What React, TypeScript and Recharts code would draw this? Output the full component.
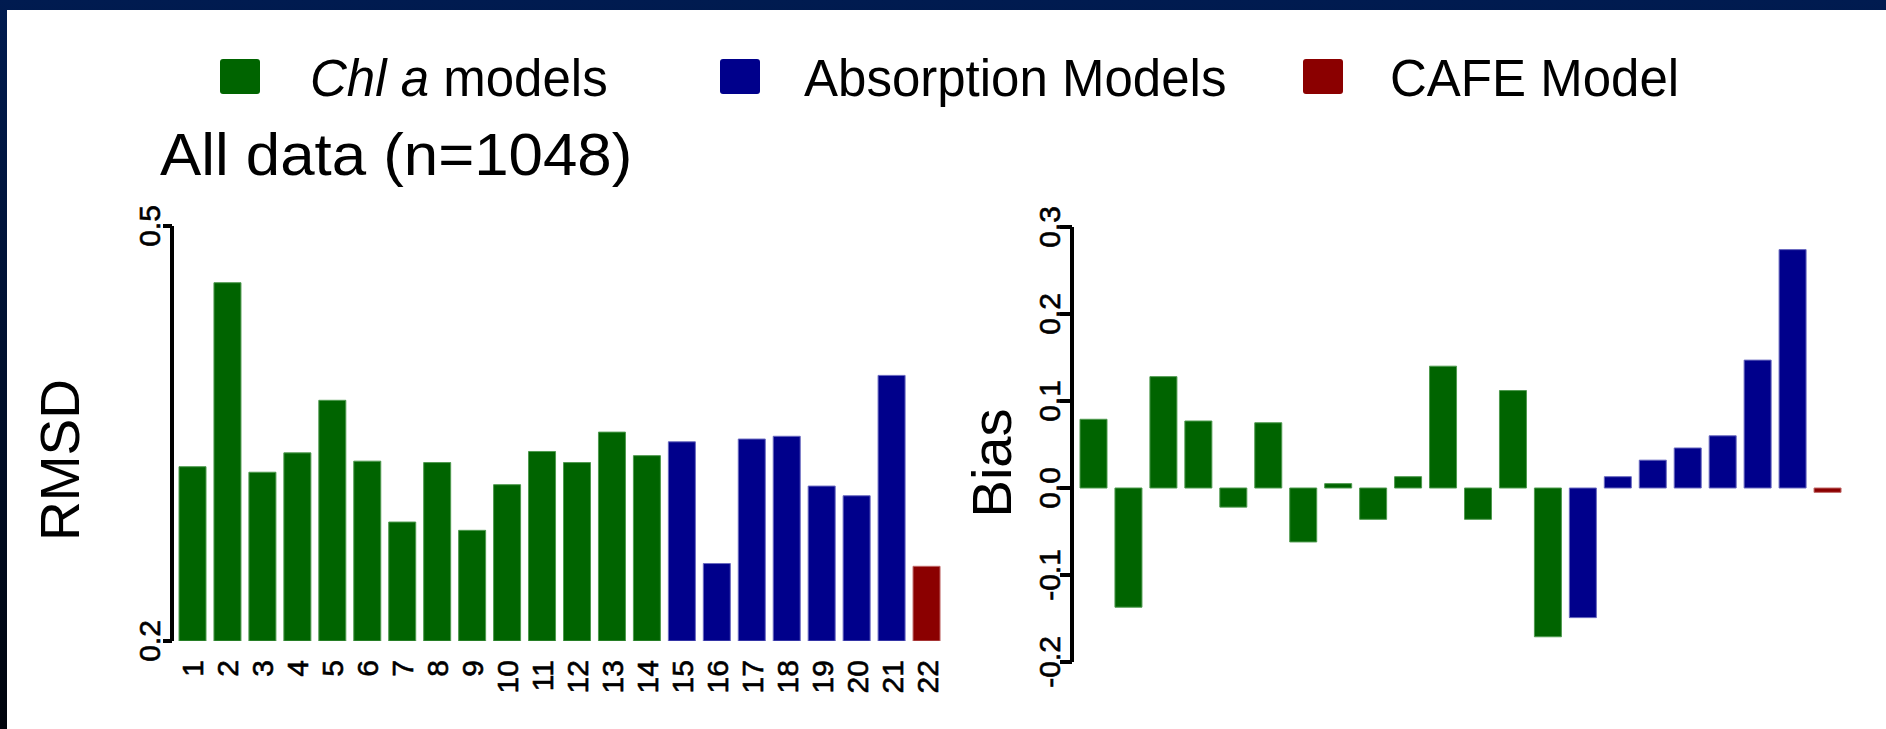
import React from 'react';
import { BarChart, Bar, XAxis, YAxis, Cell } from 'recharts';

const models = ['1', '2', '3', '4', '5', '6', '7', '8', '9', '10', '11', '12', '13', '14', '15', '16', '17', '18', '19', '20', '21', '22'];
const rmsd = [0.326, 0.459, 0.322, 0.336, 0.374, 0.330, 0.286, 0.329, 0.280, 0.313, 0.337, 0.329, 0.351, 0.334, 0.344, 0.256, 0.346, 0.348, 0.312, 0.305, 0.392, 0.254];
const bias = [0.079, -0.137, 0.128, 0.077, -0.022, 0.075, -0.062, 0.005, -0.036, 0.013, 0.140, -0.036, 0.112, -0.171, -0.149, 0.013, 0.032, 0.046, 0.060, 0.147, 0.274, -0.005];
const groups = ['chl', 'chl', 'chl', 'chl', 'chl', 'chl', 'chl', 'chl', 'chl', 'chl', 'chl', 'chl', 'chl', 'chl', 'abs', 'abs', 'abs', 'abs', 'abs', 'abs', 'abs', 'cafe'];
const rmsdTicks = [0.2, 0.5];
const biasTicks = [-0.2, -0.1, 0, 0.1, 0.2, 0.3];

const colors: Record<string, string> = { chl: '#006400', abs: '#00008b', cafe: '#8b0000' };
const edges: Record<string, string> = { chl: '#4f9a4f', abs: '#6a6ac0', cafe: '#c06a6a' };
const font = '"Liberation Sans", Arial, sans-serif';

const rmsdData = models.map((m, i) => ({ model: m, value: rmsd[i], group: groups[i] }));
const biasData = models.map((m, i) => ({ model: m, value: bias[i], group: groups[i] }));

// rotated labels, read bottom to top like R's las=0
const YTick = ({ x, y, payload }: any) => (
  <text transform={`translate(${x},${y}) rotate(-90)`} textAnchor="middle" fontSize={30} fontFamily={font} fill="#000" stroke="#000" strokeWidth={0.6}>
    {Number(payload.value).toFixed(1)}
  </text>
);

const XTick = ({ x, y, payload }: any) => (
  <text transform={`translate(${x + 11},${y + 19}) rotate(-90)`} textAnchor="end" fontSize={30} fontFamily={font} fill="#000" stroke="#000" strokeWidth={0.6}>
    {payload.value}
  </text>
);

const bars = (data: any[]) =>
  data.map((d, i) => <Cell key={`c-${i}`} fill={colors[d.group]} stroke={edges[d.group]} strokeWidth={1} />);

export default function App() {
  return (
    <div style={{ position: 'absolute', left: 0, top: 0, width: 1886, height: 729, background: 'linear-gradient(to bottom, #001b50, #00040c)' }}>
      <div style={{ position: 'absolute', left: 7, top: 10, right: 0, bottom: 0, background: '#fff' }} />

      <div style={{ position: 'absolute', left: 0, top: 0 }}>
        <BarChart width={960} height={729} data={rmsdData} margin={{ top: 226, right: 16, bottom: 28, left: 112 }} barSize={27}>
          <XAxis dataKey="model" axisLine={false} tickLine={false} tickSize={0} tickMargin={0} interval={0} height={60} padding={{ left: 3, right: 0 }} tick={<XTick />} />
          <YAxis
            type="number"
            domain={[0.2, 0.5]}
            ticks={rmsdTicks}
            allowDataOverflow
            width={60}
            tickSize={9}
            tickMargin={3}
            axisLine={{ stroke: '#000', strokeWidth: 4 }}
            tickLine={{ stroke: '#000', strokeWidth: 4 }}
            tick={<YTick />}
          />
          <Bar dataKey="value" isAnimationActive={false}>
            {bars(rmsdData)}
          </Bar>
        </BarChart>
      </div>

      <div style={{ position: 'absolute', left: 980, top: 0 }}>
        <BarChart width={906} height={729} data={biasData} margin={{ top: 227, right: 41, bottom: 67, left: 32 }} barSize={27}>
          <XAxis dataKey="model" hide padding={{ left: 4, right: 0 }} />
          <YAxis
            type="number"
            domain={[-0.2, 0.3]}
            ticks={biasTicks}
            allowDataOverflow
            width={60}
            tickSize={12}
            tickMargin={0}
            axisLine={{ stroke: '#000', strokeWidth: 4 }}
            tickLine={{ stroke: '#000', strokeWidth: 4 }}
            tick={<YTick />}
          />
          <Bar dataKey="value" isAnimationActive={false}>
            {bars(biasData)}
          </Bar>
        </BarChart>
      </div>

      <svg width={1886} height={729} style={{ position: 'absolute', left: 0, top: 0, pointerEvents: 'none' }} fontFamily={font}>
        <rect x={220} y={59} width={40} height={35} rx={3} fill={colors.chl} />
        <text x={310} y={96} fontSize={51}>
          <tspan fontStyle="italic">Chl a</tspan> models
        </text>
        <rect x={720} y={59} width={40} height={35} rx={3} fill={colors.abs} />
        <text x={804} y={96} fontSize={51}>Absorption Models</text>
        <rect x={1303} y={59} width={40} height={35} rx={3} fill={colors.cafe} />
        <text x={1390} y={96} fontSize={51}>CAFE Model</text>

        <text transform="translate(160,175) scale(1.03,1)" fontSize={60}>All data (n=1048)</text>

        <text transform="translate(79,460) rotate(-90)" textAnchor="middle" fontSize={55}>RMSD</text>
        <text transform="translate(1011,463) rotate(-90)" textAnchor="middle" fontSize={56}>Bias</text>
      </svg>
    </div>
  );
}
